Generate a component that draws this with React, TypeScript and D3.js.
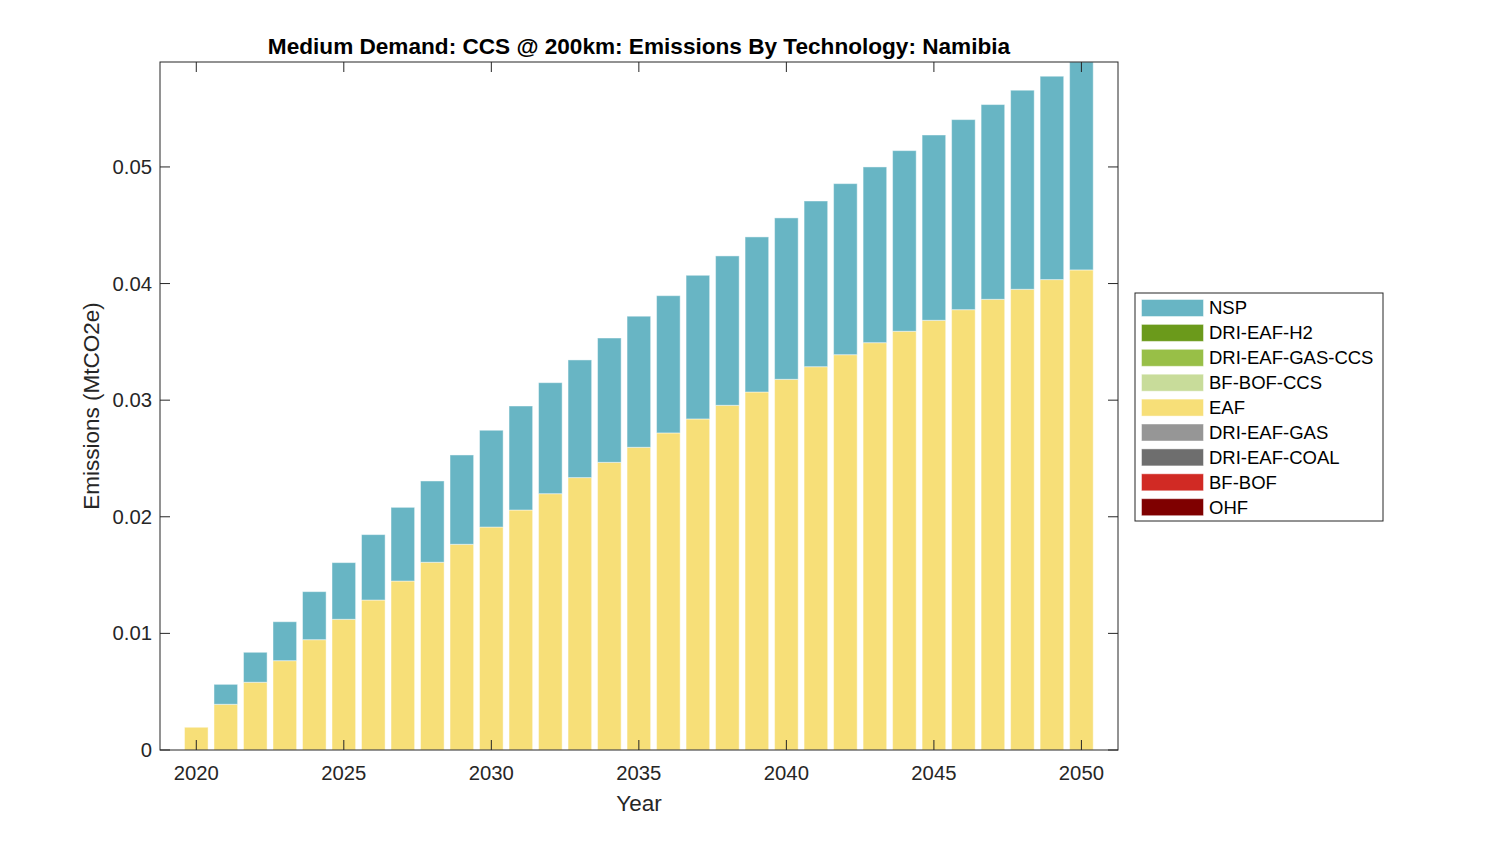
import { scaleLinear, stack } from "d3";

const years = Array.from({ length: 31 }, (_, i) => 2020 + i);

const techs = [
  "OHF",
  "BF-BOF",
  "DRI-EAF-COAL",
  "DRI-EAF-GAS",
  "EAF",
  "BF-BOF-CCS",
  "DRI-EAF-GAS-CCS",
  "DRI-EAF-H2",
  "NSP",
];

const techColors: Record<string, string> = {
  OHF: "#7f0000",
  "BF-BOF": "#d12a24",
  "DRI-EAF-COAL": "#6e6e6e",
  "DRI-EAF-GAS": "#969696",
  EAF: "#f7df78",
  "BF-BOF-CCS": "#c8dc9a",
  "DRI-EAF-GAS-CCS": "#98bf47",
  "DRI-EAF-H2": "#6b9a1b",
  NSP: "#68b5c4",
};

const eaf = [
  0.00195, 0.00392, 0.00581, 0.00766, 0.00946, 0.01121, 0.01286, 0.01449, 0.0161, 0.01764,
  0.01912, 0.02058, 0.02198, 0.02336, 0.02467, 0.02596, 0.02719, 0.02839, 0.02956, 0.0307,
  0.03179, 0.03287, 0.0339, 0.03493, 0.03591, 0.03685, 0.03776, 0.03865, 0.03951, 0.04034,
  0.04117,
];

const nsp = [
  0, 0.00171, 0.00257, 0.00334, 0.00412, 0.00486, 0.00561, 0.00632, 0.00697, 0.00766,
  0.0083, 0.00892, 0.00952, 0.01009, 0.01066, 0.01124, 0.01177, 0.01232, 0.01281, 0.0133,
  0.01384, 0.01421, 0.01467, 0.01507, 0.01549, 0.01589, 0.0163, 0.0167, 0.01707, 0.01744,
  0.01783,
];

const zeros = years.map(() => 0);

const seriesValues: Record<string, number[]> = {
  OHF: zeros,
  "BF-BOF": zeros,
  "DRI-EAF-COAL": zeros,
  "DRI-EAF-GAS": zeros,
  EAF: eaf,
  "BF-BOF-CCS": zeros,
  "DRI-EAF-GAS-CCS": zeros,
  "DRI-EAF-H2": zeros,
  NSP: nsp,
};

const yTicks = [0, 0.01, 0.02, 0.03, 0.04, 0.05];
const yTickLabels = ["0", "0.01", "0.02", "0.03", "0.04", "0.05"];
const xTicks = [2020, 2025, 2030, 2035, 2040, 2045, 2050];

const W = 1500;
const H = 844;
const left = 160;
const right = 1118;
const top = 62;
const bottom = 750;
const axisColor = "#262626";
const font = "'Liberation Sans', Arial, sans-serif";

export default function App() {
  const rows = years.map((year, i) => {
    const r: Record<string, number> = { year };
    techs.forEach((t) => (r[t] = seriesValues[t][i]));
    return r;
  });
  const stacked = stack<Record<string, number>>().keys(techs)(rows);
  const totals = rows.map((r) => techs.reduce((s, t) => s + r[t], 0));

  const x = scaleLinear().domain([2018.77, 2051.24]).range([left, right]);
  const y = scaleLinear().domain([0, Math.max(...totals)]).range([bottom, top]);
  const bw = (x(2021) - x(2020)) * 0.8;

  const legendItems = techs.slice().reverse();
  const legX = 1135;
  const legY = 293;
  const rowH = 24.9;

  return (
    <svg width={W} height={H} style={{ position: "absolute", left: 0, top: 0, background: "#fff" }}>
      <rect x={0} y={0} width={W} height={H} fill="#fff" />
      <text
        x={(left + right) / 2}
        y={54}
        textAnchor="middle"
        fontFamily={font}
        fontWeight="bold"
        fontSize={22.6}
        fill="#000"
      >
        Medium Demand: CCS @ 200km: Emissions By Technology: Namibia
      </text>

      <rect x={left} y={top} width={right - left} height={bottom - top} fill="#fff" />

      {stacked.map((layer) => (
        <g key={layer.key} fill={techColors[layer.key]}>
          {layer.map((d, i) =>
            d[1] - d[0] > 0 ? (
              <rect
                key={i}
                x={x(years[i]) - bw / 2}
                y={y(d[1])}
                width={bw}
                height={y(d[0]) - y(d[1])}
                stroke="rgba(255,255,255,0.45)"
                strokeWidth={1}
              />
            ) : null
          )}
        </g>
      ))}

      {/* axes box */}
      <rect
        x={left}
        y={top}
        width={right - left}
        height={bottom - top}
        fill="none"
        stroke={axisColor}
        strokeWidth={1}
      />

      {yTicks.map((t, i) => (
        <g key={t}>
          <line x1={left} x2={left + 10} y1={y(t)} y2={y(t)} stroke={axisColor} />
          <line x1={right} x2={right - 10} y1={y(t)} y2={y(t)} stroke={axisColor} />
          <text
            x={left - 8}
            y={y(t)}
            dy="0.35em"
            textAnchor="end"
            fontFamily={font}
            fontSize={20.3}
            fill={axisColor}
          >
            {yTickLabels[i]}
          </text>
        </g>
      ))}

      {xTicks.map((t) => (
        <g key={t}>
          <line x1={x(t)} x2={x(t)} y1={bottom} y2={bottom - 10} stroke={axisColor} />
          <line x1={x(t)} x2={x(t)} y1={top} y2={top + 10} stroke={axisColor} />
          <text
            x={x(t)}
            y={780}
            textAnchor="middle"
            fontFamily={font}
            fontSize={20.3}
            fill={axisColor}
          >
            {t}
          </text>
        </g>
      ))}

      <text
        x={(left + right) / 2}
        y={811}
        textAnchor="middle"
        fontFamily={font}
        fontSize={22.5}
        fill={axisColor}
      >
        Year
      </text>
      <text
        transform={`translate(99, ${(top + bottom) / 2}) rotate(-90)`}
        textAnchor="middle"
        fontFamily={font}
        fontSize={22.5}
        fill={axisColor}
      >
        Emissions (MtCO2e)
      </text>

      {/* legend */}
      <rect x={legX} y={legY} width={248} height={228} fill="#fff" stroke={axisColor} strokeWidth={1} />
      {legendItems.map((t, i) => {
        const cy = legY + 15 + i * rowH;
        return (
          <g key={t}>
            <rect
              x={1141.5}
              y={cy - 8.5}
              width={62}
              height={17}
              fill={techColors[t]}
              stroke="rgba(255,255,255,0.45)"
            />
            <text
              x={1209}
              y={cy}
              dy="0.35em"
              fontFamily={font}
              fontSize={18.5}
              fill="#000"
            >
              {t}
            </text>
          </g>
        );
      })}
    </svg>
  );
}
